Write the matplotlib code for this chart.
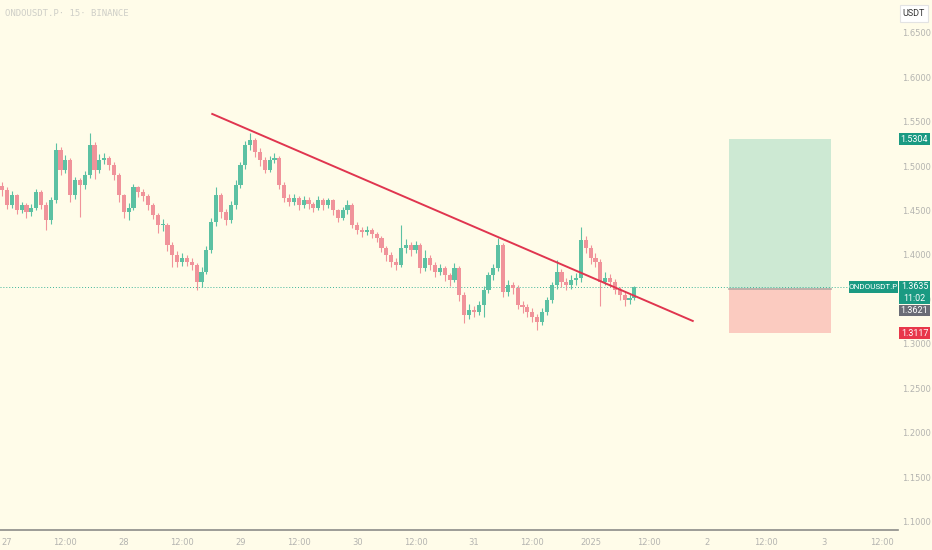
import matplotlib.pyplot as plt
from matplotlib.patches import Rectangle

# hourly candles, hours counted from 27 Dec 00:00
first_open = 1.478
closes = [1.473, 1.456, 1.467, 1.450, 1.456, 1.448, 1.453, 1.471, 1.456, 1.439,
          1.462, 1.518, 1.496, 1.507, 1.467, 1.484, 1.479, 1.490, 1.524, 1.496,
          1.507, 1.509, 1.501, 1.490, 1.467, 1.448, 1.453, 1.476, 1.471, 1.466,
          1.456, 1.445, 1.434, 1.434, 1.411, 1.400, 1.392, 1.397, 1.392, 1.389,
          1.370, 1.381, 1.406, 1.437, 1.467, 1.448, 1.439, 1.456, 1.479, 1.501,
          1.524, 1.529, 1.516, 1.507, 1.496, 1.507, 1.509, 1.479, 1.464, 1.460,
          1.464, 1.456, 1.462, 1.457, 1.453, 1.462, 1.456, 1.462, 1.450, 1.441,
          1.450, 1.456, 1.434, 1.428, 1.426, 1.428, 1.424, 1.419, 1.408, 1.400,
          1.392, 1.389, 1.408, 1.411, 1.406, 1.411, 1.385, 1.397, 1.389, 1.381,
          1.385, 1.377, 1.372, 1.385, 1.355, 1.332, 1.338, 1.336, 1.344, 1.361,
          1.377, 1.385, 1.411, 1.358, 1.366, 1.363, 1.344, 1.341, 1.336, 1.330,
          1.325, 1.336, 1.349, 1.366, 1.381, 1.370, 1.366, 1.372, 1.374, 1.417,
          1.408, 1.397, 1.392, 1.370, 1.374, 1.370, 1.361, 1.355, 1.349, 1.351,
          1.3635]
highs = [1.482, 1.476, 1.472, 1.469, 1.460, 1.458, 1.457, 1.474, 1.473, 1.459,
         1.465, 1.526, 1.521, 1.512, 1.509, 1.488, 1.487, 1.494, 1.537, 1.527,
         1.513, 1.515, 1.511, 1.504, 1.492, 1.469, 1.458, 1.480, 1.478, 1.474,
         1.468, 1.458, 1.447, 1.440, 1.436, 1.414, 1.404, 1.402, 1.400, 1.396,
         1.391, 1.386, 1.410, 1.442, 1.476, 1.470, 1.452, 1.461, 1.484, 1.505,
         1.528, 1.537, 1.532, 1.520, 1.510, 1.511, 1.515, 1.511, 1.482, 1.468,
         1.468, 1.466, 1.466, 1.465, 1.460, 1.466, 1.464, 1.464, 1.463, 1.452,
         1.454, 1.462, 1.458, 1.437, 1.431, 1.432, 1.430, 1.426, 1.421, 1.410,
         1.403, 1.397, 1.434, 1.418, 1.414, 1.416, 1.413, 1.406, 1.400, 1.392,
         1.390, 1.388, 1.380, 1.391, 1.387, 1.358, 1.345, 1.343, 1.348, 1.365,
         1.381, 1.390, 1.419, 1.413, 1.372, 1.370, 1.366, 1.348, 1.345, 1.340,
         1.334, 1.340, 1.353, 1.370, 1.394, 1.384, 1.374, 1.377, 1.380, 1.431,
         1.421, 1.411, 1.402, 1.395, 1.381, 1.378, 1.373, 1.364, 1.358, 1.356,
         1.3645]
lows = [1.466, 1.452, 1.453, 1.446, 1.447, 1.441, 1.444, 1.450, 1.452, 1.428,
        1.435, 1.458, 1.490, 1.492, 1.460, 1.463, 1.443, 1.474, 1.487, 1.485,
        1.492, 1.502, 1.496, 1.484, 1.460, 1.442, 1.439, 1.450, 1.465, 1.461,
        1.450, 1.440, 1.425, 1.427, 1.404, 1.386, 1.386, 1.388, 1.387, 1.383,
        1.360, 1.364, 1.378, 1.402, 1.433, 1.442, 1.434, 1.436, 1.452, 1.475,
        1.497, 1.518, 1.510, 1.500, 1.492, 1.493, 1.503, 1.474, 1.459, 1.455,
        1.456, 1.451, 1.453, 1.452, 1.448, 1.450, 1.451, 1.453, 1.445, 1.437,
        1.439, 1.446, 1.430, 1.423, 1.420, 1.422, 1.419, 1.414, 1.403, 1.393,
        1.386, 1.383, 1.386, 1.402, 1.399, 1.402, 1.380, 1.382, 1.383, 1.375,
        1.377, 1.371, 1.365, 1.369, 1.348, 1.323, 1.328, 1.330, 1.332, 1.330,
        1.357, 1.372, 1.382, 1.353, 1.354, 1.356, 1.339, 1.335, 1.330, 1.324,
        1.315, 1.321, 1.332, 1.346, 1.362, 1.364, 1.360, 1.362, 1.366, 1.370,
        1.402, 1.390, 1.386, 1.342, 1.366, 1.364, 1.356, 1.349, 1.342, 1.345,
        1.349]
first_hour = -1

tick_hours = [0, 12, 24, 36, 48, 60, 72, 84, 96, 108, 120, 132, 144, 156, 168, 180]
tick_labels = ['27', '12:00', '28', '12:00', '29', '12:00', '30', '12:00',
               '31', '12:00', '2025', '12:00', '2', '12:00', '3', '12:00']
price_ticks = [1.10, 1.15, 1.20, 1.25, 1.30, 1.35, 1.40, 1.45, 1.50, 1.55, 1.60, 1.65]

trend_x = [42.2, 141.0]
trend_y = [1.5586, 1.3257]

last_price = 1.3635
countdown = '11:02'
entry = 1.3621
take_profit = 1.5304
stop_loss = 1.3117
box_x = [148.4, 169.4]

bg = '#fffce9'
up_col = '#5cc1a3'
dn_col = '#f0939a'
green_tag = '#1a9a82'
tag_font = ['Roboto', 'DejaVu Sans']

W, H = 932, 550
fig = plt.figure(figsize=(W / 100, H / 100), dpi=100, facecolor=bg)
ax = fig.add_axes([0, 20 / H, 898 / W, 530 / H], facecolor=bg)

opens = [first_open] + closes[:-1]
hours = list(range(first_hour, first_hour + len(closes)))
for h, o, c, hi, lo in zip(hours, opens, closes, highs, lows):
    col = up_col if c >= o else dn_col
    ax.vlines(h, lo, hi, color=col, lw=0.8, zorder=2)
    ax.bar(h, max(abs(c - o), 0.0009), bottom=min(o, c), width=0.85,
           color=col, edgecolor='none', zorder=3)

# long position box
ax.add_patch(Rectangle((box_x[0], entry), box_x[1] - box_x[0], take_profit - entry,
                       facecolor='#cde9d3', edgecolor='none', zorder=1))
ax.add_patch(Rectangle((box_x[0], stop_loss), box_x[1] - box_x[0], entry - stop_loss,
                       facecolor='#fbcbc0', edgecolor='none', zorder=1))
ax.plot(box_x, [entry, entry], color='#b9a9a4', lw=1.2, zorder=2)

ax.axhline(last_price, color='#3fb59a', lw=0.7, ls=(0, (1, 2)), zorder=1)
ax.plot(trend_x, trend_y, color='#e0354f', lw=1.4, zorder=4)

ax.set_xlim(-1.44, 183.2)
ax.set_ylim(1.0905, 1.6868)
ax.set_xticks(tick_hours)
ax.set_xticklabels(tick_labels)
ax.set_yticks(price_ticks)
ax.set_yticklabels(['%.4f' % p for p in price_ticks])
ax.yaxis.tick_right()
ax.tick_params(axis='both', length=0, labelsize=6, colors='#b4b4b0')
ax.tick_params(axis='y', pad=3)
ax.tick_params(axis='x', pad=6)
for s in ['top', 'left', 'right']:
    ax.spines[s].set_visible(False)
ax.spines['bottom'].set_color('#8c8c88')
ax.spines['bottom'].set_linewidth(1.2)


# price tags on the right axis, placed in pixel units of the figure
def ypix(price):
    return ax.transData.transform((0, price))[1]


def tag(x0, x1, yc, hgt, txt, col, tcol='white', ec='none', fs=6.5):
    fig.add_artist(Rectangle((x0 / W, (yc - hgt / 2) / H), (x1 - x0) / W, hgt / H,
                             transform=fig.transFigure, facecolor=col, edgecolor=ec,
                             lw=0.8, zorder=6))
    if txt:
        fig.text((x0 + x1) / 2 / W, yc / H, txt, ha='center', va='center', fontsize=fs,
                 family=tag_font, color=tcol, zorder=7)


tag(899, 930, ypix(take_profit), 12, '1.5304', green_tag)
tag(899, 930, ypix(stop_loss), 12, '1.3117', '#e8374a')
y_last = ypix(last_price)
tag(899, 930, y_last - 5.5, 23, '', green_tag)
fig.text(914.5 / W, (y_last + 1) / H, '%.4f' % last_price, ha='center', va='center',
         fontsize=6.4, family=tag_font, color='white', zorder=7)
fig.text(914.5 / W, (y_last - 11) / H, countdown, ha='center', va='center',
         fontsize=6.4, family=tag_font, color='white', zorder=7)
tag(899, 930, y_last - 23, 11.5, '%.4f' % entry, '#6a6c76')
tag(849, 898, y_last, 12, 'ONDOUSDT.P', green_tag, fs=5.9)
tag(900, 928, H - 13, 17, 'USDT', 'white', tcol='#333333', ec='#e3e3e3')

fig.text(5 / W, 1 - 13 / H, 'ONDOUSDT.P\u00b7 15\u00b7 BINANCE', ha='left', va='center',
         fontsize=6.5, family='DejaVu Sans Mono', color='#cfcfc8')

fig.savefig('out.png', dpi=100, facecolor=bg)
